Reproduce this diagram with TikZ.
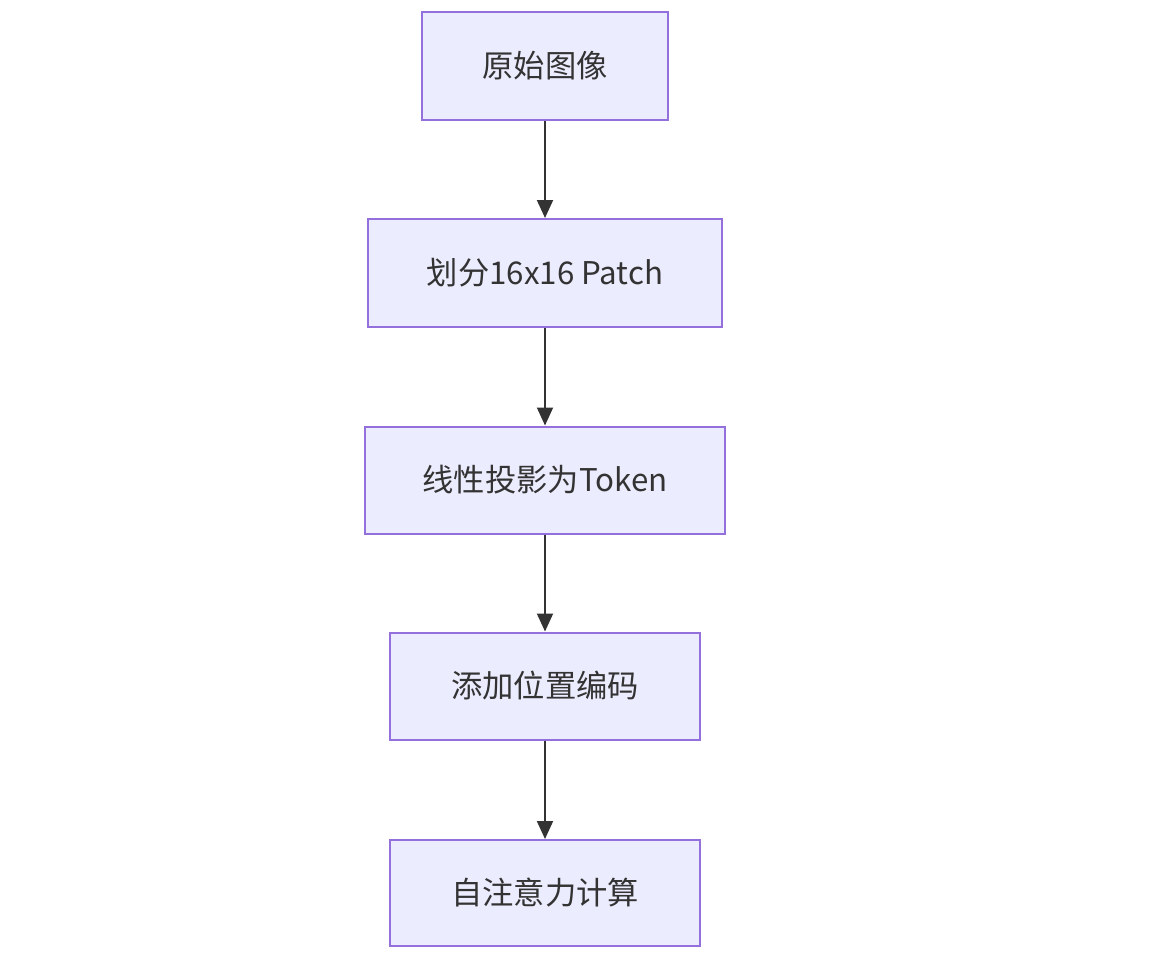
\documentclass[tikz,border=0pt]{standalone}
\usepackage{fontspec}
\setmainfont{Noto Sans CJK SC}
\usetikzlibrary{arrows.meta}
\definecolor{boxfill}{HTML}{ECECFF}
\definecolor{boxdraw}{HTML}{9370DB}
\definecolor{txt}{HTML}{333333}
\tikzset{
  flowbox/.style={draw=boxdraw, fill=boxfill, line width=2pt, inner sep=0pt, text=txt, font=\fontsize{31.3}{36}\selectfont},
  flowarrow/.style={draw=txt, line width=2pt, -{Triangle[length=18pt,width=16pt]}}
}
\begin{document}
\begin{tikzpicture}[x=1pt,y=-1pt]
\useasboundingbox (0,0) rectangle (1153,969);
\node[flowbox, minimum width=246pt, minimum height=108pt] (a) at (545,66) {原始图像};
\node[flowbox, minimum width=354pt, minimum height=108pt] (b) at (545,273) {划分16x16 Patch};
\node[flowbox, minimum width=360pt, minimum height=107pt] (c) at (545,480) {线性投影为Token};
\node[flowbox, minimum width=310pt, minimum height=107pt] (d) at (545,686) {添加位置编码};
\node[flowbox, minimum width=310pt, minimum height=106pt] (e) at (545,893) {自注意力计算};
\draw[flowarrow] (a) -- (b);
\draw[flowarrow] (b) -- (c);
\draw[flowarrow] (c) -- (d);
\draw[flowarrow] (d) -- (e);
\end{tikzpicture}
\end{document}
